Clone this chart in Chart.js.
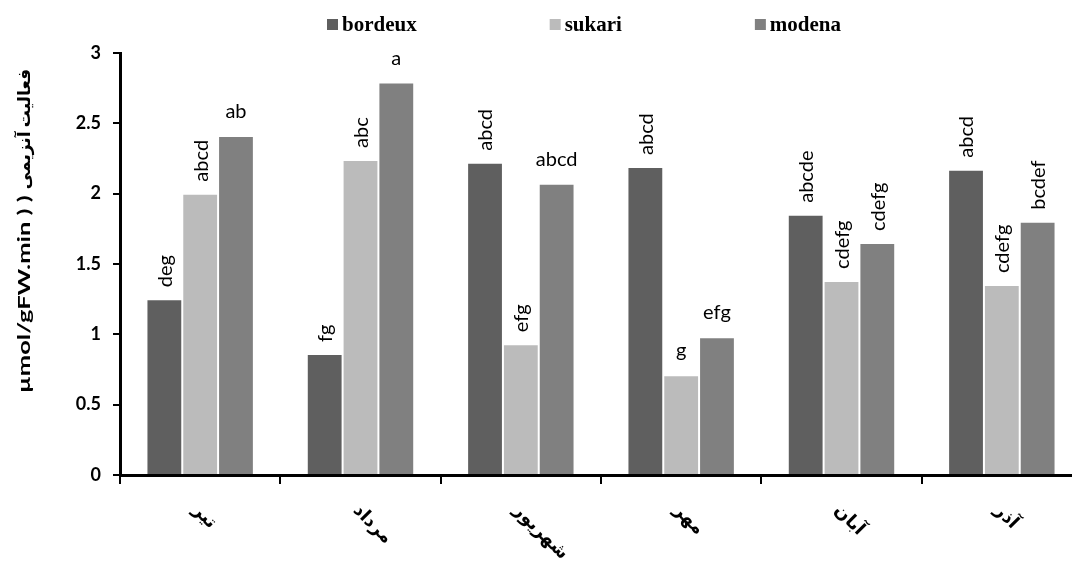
<!DOCTYPE html>
<html>
<head>
<meta charset="utf-8">
<script src="https://cdn.jsdelivr.net/npm/chart.js@4/dist/chart.umd.min.js"></script>
<style>
  html, body { margin: 0; padding: 0; background: #fff; overflow: hidden; }
  #wrap { width: 1084px; height: 563px; position: relative; }
</style>
</head>
<body>
<div id="wrap"><canvas id="chart"></canvas></div>
<script>
// months (Persian calendar)
const months = ['تیر', 'مرداد', 'شهریور', 'مهر', 'آبان', 'آذر'];

const seriesNames = ['bordeux', 'sukari', 'modena'];
const seriesColors = ['#5f5f5f', '#bbbbbb', '#808080'];

const bordeux = [1.25, 0.86, 2.22, 2.19, 1.85, 2.17];
const sukari  = [2.00, 2.24, 0.93, 0.71, 1.38, 1.35];
const modena  = [2.41, 2.79, 2.07, 0.98, 1.65, 1.80];

// significance letters above each bar
const bordeuxLetters = ['deg', 'fg', 'abcd', 'abcd', 'abcde', 'abcd'];
const sukariLetters  = ['abcd', 'abc', 'efg', 'g', 'cdefg', 'cdefg'];
const modenaLetters  = ['ab', 'a', 'abcd', 'efg', 'cdefg', 'bcdef'];

// true = letters written upright (rotated), false = horizontal
const bordeuxUpright = [true, true, true, true, true, true];
const sukariUpright  = [true, true, true, false, true, true];
const modenaUpright  = [false, false, false, false, true, true];

const yTicks = [0, 0.5, 1, 1.5, 2, 2.5, 3];
// y title: unit part (bottom) and Persian name (top)
const yTitleUnit = 'µmol/gFW.min ) )';
const yTitleName = 'فعالیت آنزیمی';

const letters = [bordeuxLetters, sukariLetters, modenaLetters];
const upright = [bordeuxUpright, sukariUpright, modenaUpright];
const seriesValues = [bordeux, sukari, modena];

const textFont = 'Lato, "DejaVu Sans", sans-serif';

// letters over the bars
const letterPlugin = {
  id: 'letters',
  afterDatasetsDraw(chart) {
    const ctx = chart.ctx;
    ctx.save();
    ctx.fillStyle = '#000';
    ctx.font = '20px ' + textFont;
    for (var d = 0; d < chart.data.datasets.length; d++) {
      var meta = chart.getDatasetMeta(d);
      meta.data.forEach(function(bar, i) {
        var txt = letters[d][i];
        if (upright[d][i]) {
          ctx.save();
          ctx.translate(bar.x, bar.y - 12);
          ctx.rotate(-Math.PI / 2);
          ctx.textAlign = 'left';
          ctx.textBaseline = 'middle';
          ctx.fillText(txt, 0, 1);
          ctx.restore();
        } else {
          ctx.textAlign = 'center';
          ctx.textBaseline = 'alphabetic';
          ctx.fillText(txt, bar.x, bar.y - 18);
        }
      });
    }
    ctx.restore();
  }
};

// slanted month names under the x axis
const monthPlugin = {
  id: 'months',
  afterDraw(chart) {
    const ctx = chart.ctx;
    const xs = chart.scales.x;
    ctx.save();
    ctx.fillStyle = '#000';
    ctx.font = 'bold 18px ' + textFont;
    ctx.textAlign = 'left';
    ctx.textBaseline = 'middle';
    months.forEach(function(m, i) {
      ctx.save();
      ctx.translate(xs.getPixelForValue(i) - 4, xs.top + 32);
      ctx.rotate(Math.PI / 4);
      ctx.fillText(m, 0, 0);
      ctx.restore();
    });
    ctx.restore();
  }
};

// y title, read bottom to top; the unit is stretched like the original picture
const yTitlePlugin = {
  id: 'yTitle',
  afterDraw(chart) {
    const ctx = chart.ctx;
    const area = chart.chartArea;
    ctx.save();
    ctx.fillStyle = '#000';
    ctx.font = 'bold 17px ' + textFont;
    ctx.textBaseline = 'middle';
    ctx.textAlign = 'left';
    ctx.translate(25, area.bottom - 82);
    ctx.rotate(-Math.PI / 2);
    ctx.save();
    ctx.scale(1.5, 1);
    ctx.fillText(yTitleUnit, 0, 0);
    var unitLen = ctx.measureText(yTitleUnit).width * 1.5;
    ctx.restore();
    ctx.fillText(yTitleName, unitLen + 6, 0);
    ctx.restore();
  }
};

// legend row on top, drawn by hand to get the wide spacing
const legendPlugin = {
  id: 'legendRow',
  afterDraw(chart) {
    const ctx = chart.ctx;
    ctx.save();
    ctx.font = 'bold 21px "Liberation Serif", "Times New Roman", serif';
    ctx.textBaseline = 'middle';
    ctx.textAlign = 'left';
    var gap = 133;
    var x = 327;
    var y = 25;
    chart.data.datasets.forEach(function(ds) {
      ctx.fillStyle = ds.backgroundColor;
      ctx.fillRect(x, y - 6, 11, 11);
      ctx.fillStyle = '#000';
      ctx.fillText(ds.label, x + 15, y + 1);
      x += 15 + ctx.measureText(ds.label).width + gap;
    });
    ctx.restore();
  }
};

const datasets = seriesNames.map(function(name, i) {
  return {
    label: name,
    data: seriesValues[i],
    backgroundColor: seriesColors[i],
    borderColor: 'rgba(255,255,255,0.55)',
    borderWidth: 1,
    categoryPercentage: 0.67,
    barPercentage: 1.0
  };
});

new Chart(document.getElementById('chart'), {
  type: 'bar',
  data: { labels: months, datasets: datasets },
  options: {
    responsive: true,
    maintainAspectRatio: false,
    animation: false,
    layout: { padding: { top: 53, right: 2, left: 0, bottom: 0 } },
    plugins: {
      legend: { display: false },
      tooltip: { enabled: false }
    },
    scales: {
      x: {
        afterFit(scale) { scale.height = 88; },
        grid: {
          offset: true,
          drawOnChartArea: false,
          drawTicks: true,
          tickLength: 9,
          color: '#000',
          lineWidth: 2
        },
        border: { display: true, color: '#000', width: 3 },
        ticks: { display: false }
      },
      y: {
        min: 0,
        max: 3,
        afterFit(scale) { scale.width = 120; },
        afterBuildTicks(scale) {
          scale.ticks = yTicks.map(function(v) { return { value: v }; });
        },
        grid: {
          drawOnChartArea: false,
          drawTicks: true,
          tickLength: 7,
          color: '#000',
          lineWidth: 2
        },
        border: { display: true, color: '#000', width: 3 },
        ticks: {
          color: '#000',
          padding: 12,
          font: { family: textFont, size: 18, weight: 'bold' },
          callback: function(v) { return String(v); }
        }
      }
    }
  },
  plugins: [letterPlugin, monthPlugin, yTitlePlugin, legendPlugin]
});
</script>
</body>
</html>
